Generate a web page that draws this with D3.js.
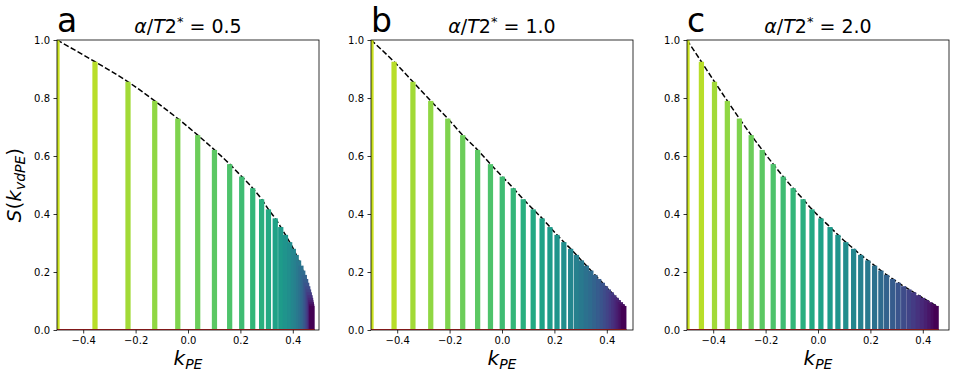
<!DOCTYPE html>
<html>
<head>
<meta charset="utf-8">
<script src="https://cdn.jsdelivr.net/npm/d3@7"></script>
<style>
    body { margin: 0; background: #fff; }
    text { font-family: "DejaVu Sans", sans-serif; }
</style>
</head>
<body>
<div id="chart"></div>
<script>

/////////////////////////////
//////////// data ///////////
/////////////////////////////

// signal height of each echo (same for all three panels)
var signal = [1.000, 0.925, 0.856, 0.790, 0.729, 0.672, 0.621, 0.572, 0.529, 0.489, 0.451,
    0.416, 0.385, 0.355, 0.328, 0.303, 0.280, 0.259, 0.240, 0.222, 0.205, 0.190, 0.176,
    0.163, 0.151, 0.140, 0.130, 0.120, 0.111, 0.103, 0.096, 0.089, 0.083];

// k_PE position of each echo, one list per panel
var kA = [-0.500, -0.355, -0.229, -0.127, -0.039, 0.037, 0.101, 0.159, 0.205, 0.247, 0.281,
    0.307, 0.333, 0.354, 0.372, 0.388, 0.402, 0.413, 0.422, 0.431, 0.438, 0.444, 0.449,
    0.453, 0.457, 0.460, 0.463, 0.466, 0.468, 0.469, 0.471, 0.472, 0.473];
var kB = [-0.500, -0.412, -0.340, -0.272, -0.207, -0.150, -0.093, -0.044, 0.001, 0.043, 0.081,
    0.119, 0.153, 0.183, 0.210, 0.236, 0.262, 0.284, 0.303, 0.322, 0.339, 0.355, 0.369,
    0.383, 0.395, 0.406, 0.417, 0.427, 0.436, 0.444, 0.452, 0.459, 0.465];
var kC = [-0.500, -0.445, -0.395, -0.346, -0.300, -0.255, -0.213, -0.171, -0.133, -0.095, -0.057,
    -0.023, 0.011, 0.046, 0.076, 0.106, 0.136, 0.163, 0.190, 0.216, 0.240, 0.262, 0.285,
    0.306, 0.327, 0.347, 0.365, 0.383, 0.399, 0.414, 0.427, 0.440, 0.451];

var panelLetters = ["a", "b", "c"];
var ratios = ["0.5", "1.0", "2.0"];
var xTicks = [-0.4, -0.2, 0.0, 0.2, 0.4];
var yTicks = [0.0, 0.2, 0.4, 0.6, 0.8, 1.0];

/////////////////////////////
////////// layout ///////////
/////////////////////////////

var lefts = [57, 371, 687];
var top_y = 40, plot_w = 262, plot_h = 290;
var bar_w = 0.02;

var svg = d3.select("#chart")
    .append("svg")
    .attr("width", 956)
    .attr("height", 380);

var y_scale = d3.scaleLinear()
    .domain([0, 1])
    .range([plot_h, 0]);

[kA, kB, kC].forEach(function (kpos, p) {

    var g = svg.append("g")
        .attr("transform", "translate(" + lefts[p] + "," + top_y + ")");

    var x_scale = d3.scaleLinear()
        .domain([-0.5, 0.5])
        .range([0, plot_w]);

    g.append("clipPath")
        .attr("id", "clip" + p)
        .append("rect")
        .attr("width", plot_w)
        .attr("height", plot_h);

    var inner = g.append("g").attr("clip-path", "url(#clip" + p + ")");

    var pts = kpos.map(function (k, i) { return { k: k, s: signal[i], i: i } });

    // dashed envelope (underneath the bars)
    var line = d3.line()
        .x(function (d) { return x_scale(d.k) })
        .y(function (d) { return y_scale(d.s) })
        .curve(d3.curveMonotoneX);

    inner.append("path")
        .datum(pts)
        .attr("d", line)
        .attr("fill", "none")
        .attr("stroke", "#000")
        .attr("stroke-width", 1.5)
        .attr("stroke-dasharray", "5.5,2.4");

    // Draw the bar chart
    inner.selectAll(".bar")
        .data(pts)
        .join("rect")
        .attr("class", "bar")
        .attr("x", function (d) { return x_scale(d.k - bar_w / 2) })
        .attr("width", function (d) { return x_scale(d.k + bar_w / 2) - x_scale(d.k - bar_w / 2) })
        .attr("y", function (d) { return y_scale(d.s) })
        .attr("height", function (d) { return y_scale(0) - y_scale(d.s) })
        .attr("fill", function (d) { return d3.interpolateViridis(0.92 - 0.92 * d.i / (pts.length - 1)) });

    // red zero line
    inner.append("line")
        .attr("x1", x_scale(kpos[0]))
        .attr("x2", x_scale(kpos[kpos.length - 1] + bar_w / 2))
        .attr("y1", y_scale(0))
        .attr("y2", y_scale(0))
        .attr("stroke", "#d62728")
        .attr("stroke-width", 2);

    // axes
    var xa = g.append("g")
        .attr("transform", "translate(0," + plot_h + ")")
        .call(d3.axisBottom(x_scale).tickValues(xTicks).tickSize(3.5).tickPadding(3.5)
            .tickFormat(function (d) { return d3.format(".1f")(d).replace("-", "\u2212") }));
    var ya = g.append("g")
        .call(d3.axisLeft(y_scale).tickValues(yTicks).tickSize(3.5).tickPadding(3.5)
            .tickFormat(d3.format(".1f")));
    [xa, ya].forEach(function (a) {
        a.select(".domain").remove();
        a.selectAll("text").style("font-size", "10px").attr("fill", "#000");
        a.selectAll("line").attr("stroke", "#000").attr("stroke-width", 0.8);
    });

    g.append("rect")
        .attr("width", plot_w)
        .attr("height", plot_h)
        .attr("fill", "none")
        .attr("stroke", "#000")
        .attr("stroke-width", 0.8);

    // panel letter
    g.append("text")
        .attr("x", 0)
        .attr("y", -8)
        .style("font-size", "33px")
        .text(panelLetters[p]);

    // title
    var t = g.append("text")
        .attr("x", plot_w / 2)
        .attr("y", -7)
        .attr("text-anchor", "middle")
        .style("font-size", "19px");
    t.append("tspan").style("font-style", "italic").text("\u03b1");
    t.append("tspan").text("/");
    t.append("tspan").style("font-style", "italic").text("T");
    t.append("tspan").text("2");
    t.append("tspan").attr("dy", -7).style("font-size", "13px").text("*");
    t.append("tspan").attr("dy", 7).text(" = " + ratios[p]);

    // x label
    var xl = g.append("text")
        .attr("x", plot_w / 2)
        .attr("y", plot_h + 35)
        .attr("text-anchor", "middle")
        .style("font-size", "20px")
        .style("font-style", "italic");
    xl.append("tspan").text("k");
    xl.append("tspan").attr("dy", 4).style("font-size", "14px").text("PE");

    if (p === 0) {
        var yl = g.append("text")
            .attr("transform", "translate(-36," + plot_h / 2 + ") rotate(-90)")
            .attr("text-anchor", "middle")
            .style("font-size", "20px");
        yl.append("tspan").style("font-style", "italic").text("S");
        yl.append("tspan").text("(");
        yl.append("tspan").style("font-style", "italic").text("k");
        yl.append("tspan").attr("dy", 4).style("font-size", "14px").style("font-style", "italic").text("vdPE");
        yl.append("tspan").attr("dy", -4).text(")");
    }
});

</script>
</body>
</html>
